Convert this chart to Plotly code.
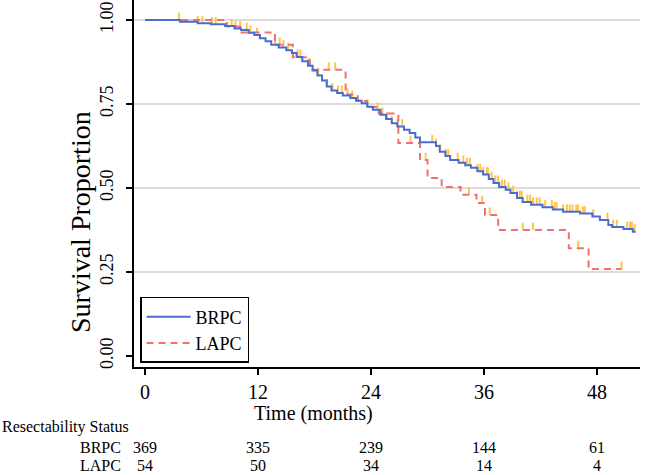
import plotly.graph_objects as go

FONT = "Liberation Serif"

# ---- data ----
brpc_time = [0, 3.7, 5.6, 7.0, 8.5, 9.5, 10.2, 11.0, 11.6, 12.2, 12.8, 13.4, 14.2, 15.0, 15.6,
             16.1, 16.7, 17.3, 17.8, 18.3, 18.8, 19.3, 19.8, 20.4, 21.0, 21.8, 22.4, 23.0, 23.6,
             24.2, 25.0, 25.6, 26.2, 26.8, 27.5, 28.1, 28.7, 29.2, 30.9, 31.3, 31.9, 32.4, 33.3,
             34.0, 34.6, 35.3, 35.9, 36.5, 37.0, 37.6, 38.3, 38.8, 39.5, 40.1, 41.0, 42.2, 43.3,
             44.4, 46.2, 47.5, 48.3, 49.2, 49.6, 50.8, 51.8, 52.1]
brpc_surv = [1.0, 0.995, 0.99, 0.987, 0.982, 0.975, 0.97, 0.962, 0.955, 0.946, 0.937, 0.926, 0.918,
             0.91, 0.902, 0.89, 0.877, 0.864, 0.85, 0.835, 0.82, 0.802, 0.79, 0.783, 0.775, 0.768,
             0.76, 0.752, 0.742, 0.733, 0.718, 0.705, 0.693, 0.683, 0.673, 0.664, 0.65, 0.636,
             0.625, 0.608, 0.595, 0.583, 0.575, 0.568, 0.56, 0.55, 0.54, 0.527, 0.515, 0.503,
             0.495, 0.485, 0.47, 0.458, 0.45, 0.443, 0.436, 0.429, 0.424, 0.415, 0.405, 0.39,
             0.384, 0.378, 0.37, 0.37]
brpc_censor = [3.6, 5.6, 6.1, 7.1, 7.5, 9.2, 9.6, 10.1, 10.8, 11.2, 11.9, 13.8, 14.7, 15.2, 16.2,
               16.5, 17.3, 17.5, 18.4, 19.3, 19.9, 20.5, 20.9, 21.5, 22.0, 23.6, 24.7, 25.2, 25.7,
               26.2, 26.8, 27.3, 30.5, 30.9, 31.3, 31.9, 32.2, 33.2, 33.8, 34.2, 34.5, 35.3, 35.6,
               35.9, 36.3, 36.4, 36.8, 37.2, 37.5, 37.9, 38.2, 38.6, 39.1, 39.5, 39.8, 40.0, 40.6,
               40.9, 41.2, 41.6, 41.9, 42.5, 43.2, 43.5, 43.7, 44.4, 44.8, 45.1, 45.4, 45.8, 46.0,
               46.5, 46.7, 47.6, 49.1, 49.7, 50.1, 51.2, 51.5, 51.7, 52.0]

lapc_time = [0, 8.7, 10.1, 13.8, 15.7, 17.5, 21.3, 22.6, 23.6, 24.8, 26.9, 29.2, 30.0, 31.5,
             33.5, 35.2, 36.1, 37.5, 45.0, 47.1, 50.6]
lapc_surv = [1.0, 0.981, 0.963, 0.926, 0.889, 0.852, 0.778, 0.759, 0.741, 0.722, 0.634, 0.583,
             0.53, 0.503, 0.48, 0.455, 0.42, 0.375, 0.321, 0.259, 0.259]
lapc_censor = [14.3, 19.5, 20.2, 28.2, 29.8, 34.4, 35.8, 36.6, 40.1, 41.2, 46.0, 50.6]

x_ticks = [0, 12, 24, 36, 48]
y_ticks = [0, 0.25, 0.5, 0.75, 1.0]
y_ticklabels = ["0.00", "0.25", "0.50", "0.75", "1.00"]
grid_vals = [0.25, 0.5, 0.75, 1.0]

risk_groups = ["BRPC", "LAPC"]
risk_brpc = [369, 335, 239, 144, 61]
risk_lapc = [54, 50, 34, 14, 4]

BLUE = "#4a6cd0"
RED = "#f47070"
GOLD = "#fcc64a"


def surv_at(times, survs, t):
    s = survs[0]
    for ti, si in zip(times, survs):
        if ti <= t:
            s = si
        else:
            break
    return s


def censor_segments(times, survs, ctimes, h=0.022):
    xs, ys = [], []
    for c in ctimes:
        s = surv_at(times, survs, c)
        xs += [c, c, None]
        ys += [s, s + h, None]
    return xs, ys


fig = go.Figure()

cx, cy = censor_segments(brpc_time, brpc_surv, brpc_censor)
lx, ly = censor_segments(lapc_time, lapc_surv, lapc_censor)
fig.add_trace(go.Scatter(x=cx + lx, y=cy + ly, mode="lines",
                         line=dict(color=GOLD, width=2), showlegend=False, hoverinfo="skip"))

fig.add_trace(go.Scatter(x=lapc_time, y=lapc_surv, mode="lines", name="LAPC",
                         line=dict(color=RED, width=2, dash="7px,5px", shape="hv")))
fig.add_trace(go.Scatter(x=brpc_time, y=brpc_surv, mode="lines", name="BRPC",
                         line=dict(color=BLUE, width=2, shape="hv")))

for v in grid_vals:
    fig.add_shape(type="line", xref="paper", x0=0, x1=1, yref="y", y0=v, y1=v,
                  line=dict(color="#d0d0d0", width=1.6), layer="below")

W, H = 646, 475
L, R, T, B = 134, 6, 0, 108
pw, ph = W - L - R, H - T - B


def px_x(p):
    return (p - L) / pw


def px_y(p):
    return (H - B - p) / ph


def note(text, xp, yp, size, xanchor="center", angle=0, xref="paper"):
    fig.add_annotation(text=text, xref=xref, yref="paper",
                       x=px_x(xp) if xref == "paper" else xp, y=px_y(yp),
                       xanchor=xanchor, yanchor="middle", textangle=angle, showarrow=False,
                       font=dict(family=FONT, size=size, color="black"))


note("Time (months)", 313, 413, 20)
note("Survival Proportion", 80, 222, 28, angle=-90)
note("Resectability Status", 0, 427, 16, xanchor="left")

for name, row, ypix in [(risk_groups[0], risk_brpc, 447), (risk_groups[1], risk_lapc, 466)]:
    note(name, 123, ypix, 16, xanchor="right")
    for t, n in zip(x_ticks, row):
        note(str(n), t, ypix, 16, xref="x")

fig.update_layout(
    width=W, height=H,
    margin=dict(l=L, r=R, t=T, b=B),
    paper_bgcolor="white", plot_bgcolor="white",
    font=dict(family=FONT, color="black"),
    showlegend=True,
    legend=dict(x=0.012, y=0.011, xanchor="left", yanchor="bottom",
                bordercolor="black", borderwidth=1.5, bgcolor="white",
                itemwidth=44,
                font=dict(family=FONT, size=18, color="black"),
                traceorder="reversed"),
    xaxis=dict(range=[-1.17, 52.56], tickvals=x_ticks, ticks="outside", ticklen=6,
               tickwidth=1.5, tickcolor="black", showline=True, linecolor="black",
               linewidth=1.5, showgrid=False, zeroline=False,
               tickfont=dict(family=FONT, size=20, color="black")),
    yaxis=dict(range=[-0.0327, 1.0595], tickvals=y_ticks, ticktext=y_ticklabels,
               tickangle=-90, ticks="outside", ticklen=6, tickwidth=1.5, tickcolor="black",
               ticklabelstandoff=6,
               showline=True, linecolor="black", linewidth=1.5, showgrid=False, zeroline=False,
               tickfont=dict(family=FONT, size=18, color="black")),
)

fig.write_html("out.html", config={"displayModeBar": False},
               post_script="document.body.style.margin='0';")
